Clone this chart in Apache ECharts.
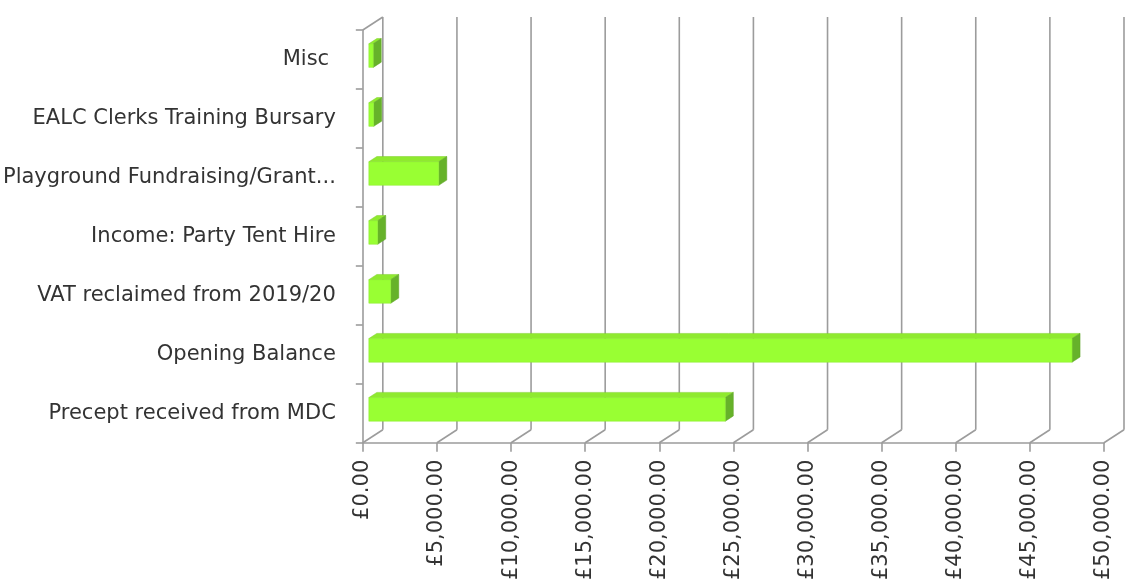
<!DOCTYPE html>
<html>
<head>
<meta charset="utf-8">
<script src="https://cdn.jsdelivr.net/npm/echarts@6/dist/echarts.min.js"></script>
<style>
  html, body { margin: 0; padding: 0; background: #fff; }
  #main { width: 1125px; height: 583px; }
</style>
</head>
<body>
<div id="main"></div>
<script>
// categories, bottom to top (same order as the sheet)
var categories = [
  'Precept received from MDC',
  'Opening Balance',
  'VAT reclaimed from 2019/20',
  'Income: Party Tent Hire',
  'Playground Fundraising/Grant...',
  'EALC Clerks Training Bursary',
  'Misc '
];
var amounts = [24050, 47440, 1480, 600, 4720, 330, 300];
var xTicks = [0, 5000, 10000, 15000, 20000, 25000, 30000, 35000, 40000, 45000, 50000];

// depth of the 3d box in pixels
var DX = 20, DY = -13;
var GRID_LINE = { stroke: '#9c9c9c', lineWidth: 1.6 };
var FONT = 'DejaVu Sans';

function money(v) {
  var s = Math.round(v).toString().replace(/\B(?=(\d{3})+(?!\d))/g, ',');
  return '£' + s + '.00';
}

// back wall + floor lines
function renderWall(params, api) {
  var cs = params.coordSys;
  var v = api.value(0);
  var x = api.coord([v, 0])[0];
  var yb = cs.y + cs.height, yt = cs.y;
  var kids = [
    { type: 'line', shape: { x1: x, y1: yb, x2: x + DX, y2: yb + DY }, style: GRID_LINE },
    { type: 'line', shape: { x1: x + DX, y1: yb + DY, x2: x + DX, y2: yt + DY }, style: GRID_LINE }
  ];
  if (v === 0) {
    kids.push({ type: 'line', shape: { x1: x, y1: yt, x2: x + DX, y2: yt + DY }, style: GRID_LINE });
  }
  return { type: 'group', children: kids };
}

// one 3d bar: front, top, side
function renderBar(params, api) {
  var v = api.value(0), c = api.value(1);
  var p0 = api.coord([0, c]), p1 = api.coord([v, c]);
  var bh = api.size([0, 1])[1] * 0.4;
  var ox = DX * 0.3, oy = DY * 0.3, bx = DX * 0.4, by = DY * 0.4;
  var x0 = p0[0] + ox, x1 = p1[0] + ox;
  var yT = p0[1] + oy - bh / 2, yB = yT + bh;
  return {
    type: 'group',
    children: [
      { type: 'polygon', shape: { points: [[x0, yT], [x1, yT], [x1 + bx, yT + by], [x0 + bx, yT + by]] },
        style: { fill: '#8fea2f', stroke: '#7fcf2a', lineWidth: 0.5 } },
      { type: 'polygon', shape: { points: [[x1, yT], [x1 + bx, yT + by], [x1 + bx, yB + by], [x1, yB]] },
        style: { fill: '#66b22a', stroke: '#5ea326', lineWidth: 0.5 } },
      { type: 'rect', shape: { x: x0, y: yT, width: x1 - x0, height: bh },
        style: { fill: '#99ff33', stroke: '#8ae62e', lineWidth: 0.5 } }
    ]
  };
}

var chart = echarts.init(document.getElementById('main'));
chart.setOption({
  animation: false,
  grid: { left: 362, top: 30, width: 742, height: 415 },
  xAxis: {
    type: 'value', min: 0, max: 50000, interval: 5000,
    axisLine: { show: true, lineStyle: { color: '#9c9c9c', width: 1.6 } },
    axisTick: { show: true, length: 9, lineStyle: { color: '#9c9c9c', width: 1.6 } },
    splitLine: { show: false },
    axisLabel: {
      rotate: 90, margin: 17, fontSize: 21, color: '#333',
      fontFamily: FONT, formatter: money
    }
  },
  yAxis: {
    type: 'category', data: categories,
    axisLine: { show: true, lineStyle: { color: '#9c9c9c', width: 1.6 } },
    axisTick: { show: true, length: 7, lineStyle: { color: '#9c9c9c', width: 1.6 } },
    axisLabel: { margin: 27, fontSize: 21, color: '#333', fontFamily: FONT }
  },
  series: [
    {
      type: 'custom', z: 1, silent: true,
      renderItem: renderWall,
      data: xTicks.map(function (t) { return [t, 0]; })
    },
    {
      type: 'custom', z: 3,
      renderItem: renderBar,
      data: amounts.map(function (a, i) { return [a, i]; })
    }
  ]
});
</script>
</body>
</html>
